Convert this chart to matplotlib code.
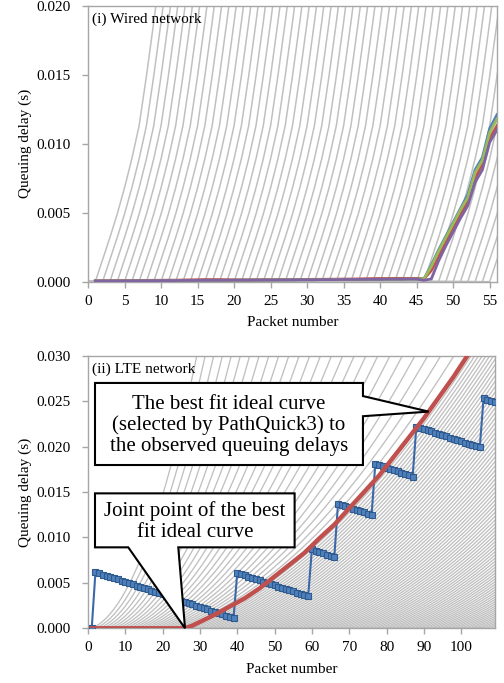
import numpy as np
import matplotlib
matplotlib.use("Agg")
import matplotlib.pyplot as plt
from matplotlib.patches import Polygon

plt.rcParams['font.family'] = ['Liberation Serif', 'DejaVu Serif']
plt.rcParams['font.size'] = 11

# ---------------- (i) Wired network ----------------
wired_packets = np.arange(1, 57)
# delay of an ideal curve, packet by packet after its joint point
wired_ideal_shape = [0.0, 0.0016, 0.0032, 0.0049, 0.0068, 0.0089, 0.0113, 0.0149, 0.0188, 0.0229]
wired_joint_points = list(range(1, 56))

wired_flat = [0.00005, 0.00005, 0.00005, 0.00006, 0.00006, 0.00006, 0.00007, 0.00007, 0.00007, 0.00008,
              0.00008, 0.00008, 0.00009, 0.00009, 0.00009, 0.00010, 0.00010, 0.00010, 0.00010, 0.00011,
              0.00011, 0.00011, 0.00012, 0.00012, 0.00012, 0.00013, 0.00013, 0.00013, 0.00014, 0.00014,
              0.00014, 0.00015, 0.00015, 0.00015, 0.00016, 0.00016, 0.00016, 0.00017, 0.00017, 0.00017,
              0.00018, 0.00018, 0.00018, 0.00019, 0.00019]
wired_blue_tail = [0.0002, 0.0012, 0.0023, 0.0033, 0.0043, 0.0053, 0.0063, 0.0081, 0.0090, 0.0111, 0.0121]
wired_red_tail = [0.0002, 0.0008, 0.0018, 0.0029, 0.0039, 0.0049, 0.0058, 0.0075, 0.0085, 0.0104, 0.0113]
wired_green_tail = [0.0002, 0.0011, 0.0022, 0.0032, 0.0042, 0.0052, 0.0061, 0.0079, 0.0088, 0.0108, 0.0118]
wired_purple_tail = [0.0001, 0.0002, 0.0015, 0.0026, 0.0036, 0.0046, 0.0055, 0.0072, 0.0081, 0.0101, 0.0110]
wired_red_flat = [0.00006, 0.00006, 0.00007, 0.00007, 0.00008, 0.00008, 0.00009, 0.00009, 0.00010, 0.00010,
                  0.00011, 0.00011, 0.00012, 0.00013, 0.00014, 0.00015, 0.00015, 0.00015, 0.00014, 0.00013,
                  0.00013, 0.00013, 0.00013, 0.00014, 0.00014, 0.00014, 0.00015, 0.00015, 0.00016, 0.00016,
                  0.00017, 0.00017, 0.00018, 0.00018, 0.00019, 0.00019, 0.00020, 0.00021, 0.00022, 0.00023,
                  0.00023, 0.00024, 0.00024, 0.00024, 0.00024]
wired_series = [
    ("#4F81BD", wired_flat + wired_blue_tail),
    ("#C0504D", wired_red_flat + wired_red_tail),
    ("#9BBB59", wired_flat + wired_green_tail),
    ("#8064A2", wired_flat + wired_purple_tail),
]

# ---------------- (ii) LTE network ----------------
lte_packets = np.arange(1, 110)
lte_observed = [
    0.00000,
    0.00620, 0.00606, 0.00592, 0.00578, 0.00565, 0.00551, 0.00537, 0.00523, 0.00510, 0.00496,
    0.00482, 0.00468, 0.00455, 0.00441, 0.00427, 0.00413, 0.00400, 0.00386, 0.00372, 0.00358,
    0.00345, 0.00331, 0.00317, 0.00303, 0.00290, 0.00276, 0.00262, 0.00248, 0.00235, 0.00221,
    0.00207, 0.00193, 0.00180, 0.00166, 0.00152, 0.00138, 0.00125, 0.00111,
    0.00610, 0.00596, 0.00583, 0.00569, 0.00555, 0.00541, 0.00528, 0.00514, 0.00500, 0.00487,
    0.00473, 0.00459, 0.00446, 0.00432, 0.00418, 0.00405, 0.00391, 0.00377, 0.00364, 0.00350,
    0.00870, 0.00855, 0.00840, 0.00825, 0.00810, 0.00795, 0.00780,
    0.01370, 0.01357, 0.01343, 0.01330, 0.01317, 0.01303, 0.01290, 0.01277, 0.01263, 0.01250,
    0.01810, 0.01796, 0.01782, 0.01768, 0.01754, 0.01740, 0.01726, 0.01712, 0.01698, 0.01684, 0.01670,
    0.02220, 0.02206, 0.02193, 0.02179, 0.02166, 0.02152, 0.02139, 0.02125, 0.02112, 0.02098,
    0.02085, 0.02071, 0.02058, 0.02044, 0.02031, 0.02017, 0.02004, 0.01990,
    0.02530, 0.02516, 0.02503, 0.02489,
]
best_fit_packets = [1, 26, 28, 30, 34, 38, 42, 46, 50, 54, 58, 62, 66, 70, 74, 78, 82, 86, 90, 94, 98, 102, 106]
best_fit_delay = [0.0, 0.0, 0.0003, 0.0007, 0.0015, 0.0024, 0.0033, 0.0044, 0.0057, 0.0070, 0.0083, 0.0099,
                  0.0114, 0.0132, 0.0150, 0.0168, 0.0189, 0.0210, 0.0231, 0.0254, 0.0277, 0.0302, 0.0327]
best_fit_joint = 26
best_fit_pointer_packet = 91.3

# candidate ideal curves: delay = slope*m + bend*m^2, m = packets past the joint point;
# the bend shrinks for later joint points until it settles at the best fit's value
lte_joint_points = list(range(1, 109))
lte_slope = 1.64e-4
lte_bend_first = 3.2e-5
lte_bend_ratio = 0.9105
lte_bend_last = 3.07e-6


def style_axes(ax, xmax, ymax, xstep, ystep):
    ax.set_xlim(0, xmax)
    ax.set_ylim(0, ymax)
    ax.set_xticks(np.arange(0, xmax + 0.01, xstep))
    ax.set_yticks(np.arange(0, ymax + 1e-9, ystep))
    ax.yaxis.set_major_formatter(plt.FuncFormatter(lambda v, p: f"{v:.3f}"))
    for sp in ax.spines.values():
        sp.set_color("#A6A6A6")
        sp.set_linewidth(1.0)
    ax.tick_params(axis="both", direction="out", length=4.3, color="#A6A6A6", width=1.0,
                   labelsize=11)
    ax.tick_params(axis="y", pad=8)
    ax.tick_params(axis="x", pad=5)
    ax.set_ylabel("Queuing delay (s)", fontsize=11)
    ax.set_xlabel("Packet number", fontsize=11, labelpad=6)
    ax.yaxis.set_label_coords(-0.138, 0.5)


fig = plt.figure(figsize=(5.04, 6.83), dpi=100)

# ---- top panel ----
ax1 = fig.add_axes([0.1746, 0.5876, 0.8115, 0.4041])
shape = np.array(wired_ideal_shape)
for j in wired_joint_points:
    xs = np.concatenate([[0, j], j + np.arange(len(shape))])
    ys = np.concatenate([[0, 0], shape])
    ax1.plot(xs, ys, color="#C0C0C0", lw=1.1, zorder=1)
for color, vals in wired_series:
    ax1.plot(wired_packets, vals, color=color, lw=2.0, zorder=3)
style_axes(ax1, 56, 0.020, 5, 0.005)
ax1.text(0.01, 0.975, "(i) Wired network", transform=ax1.transAxes, ha="left", va="top", fontsize=11)

# ---- bottom panel ----
ax2 = fig.add_axes([0.1746, 0.0801, 0.807, 0.3991])
pk = np.asarray(lte_packets, dtype=float)
for j in lte_joint_points:
    bend = max(lte_bend_first * lte_bend_ratio ** (j - 1), lte_bend_last)
    m = np.clip(pk - j, 0, None)
    ax2.plot(pk, lte_slope * m + bend * m ** 2, color="#C0C0C0", lw=0.95, zorder=1)
ax2.plot(lte_packets, lte_observed, color="#3A68A8", lw=1.5, marker="s", ms=4.2,
         mfc="#4F81BD", mec="#2F5A8E", mew=0.8, zorder=3)
ax2.plot(best_fit_packets, best_fit_delay, color="#C0504D", lw=3.2, zorder=4)
style_axes(ax2, 109, 0.030, 10, 0.005)
ax2.text(0.01, 0.975, "(ii) LTE network", transform=ax2.transAxes, ha="left", va="top", fontsize=11)


def to_axes(ax, x, y):
    return ax.transAxes.inverted().transform(ax.transData.transform((x, y)))


tip1 = to_axes(ax2, best_fit_pointer_packet, np.interp(best_fit_pointer_packet, best_fit_packets, best_fit_delay))
tip2 = to_axes(ax2, best_fit_joint, 0.0)

# callout 1: box with a wedge pointing right to the best fit curve
bx0, bx1, by0, by1 = 0.0172, 0.676, 0.599, 0.900
call1 = [(bx0, by1), (bx1, by1), (bx1, 0.852), tuple(tip1), (bx1, 0.778), (bx1, by0), (bx0, by0)]
ax2.add_patch(Polygon(call1, closed=True, transform=ax2.transAxes, facecolor="white",
                      edgecolor="black", lw=1.5, zorder=6, clip_on=False))
ax2.text((bx0 + bx1) / 2, (by0 + by1) / 2 - 0.005,
         "The best fit ideal curve\n(selected by PathQuick3) to\nthe observed queuing delays",
         transform=ax2.transAxes, ha="center", va="center", fontsize=15, linespacing=1.1, zorder=7)

# callout 2: box with a wedge pointing down to the joint point
cx0, cx1, cy0, cy1 = 0.0172, 0.508, 0.297, 0.495
call2 = [(cx0, cy1), (cx1, cy1), (cx1, cy0), (0.222, cy0), tuple(tip2), (0.099, cy0), (cx0, cy0)]
ax2.add_patch(Polygon(call2, closed=True, transform=ax2.transAxes, facecolor="white",
                      edgecolor="black", lw=1.5, zorder=6, clip_on=False))
ax2.text((cx0 + cx1) / 2, (cy0 + cy1) / 2 - 0.005, "Joint point of the best\nfit ideal curve",
         transform=ax2.transAxes, ha="center", va="center", fontsize=15, linespacing=1.1, zorder=7)

fig.savefig("out.png", dpi=100)
